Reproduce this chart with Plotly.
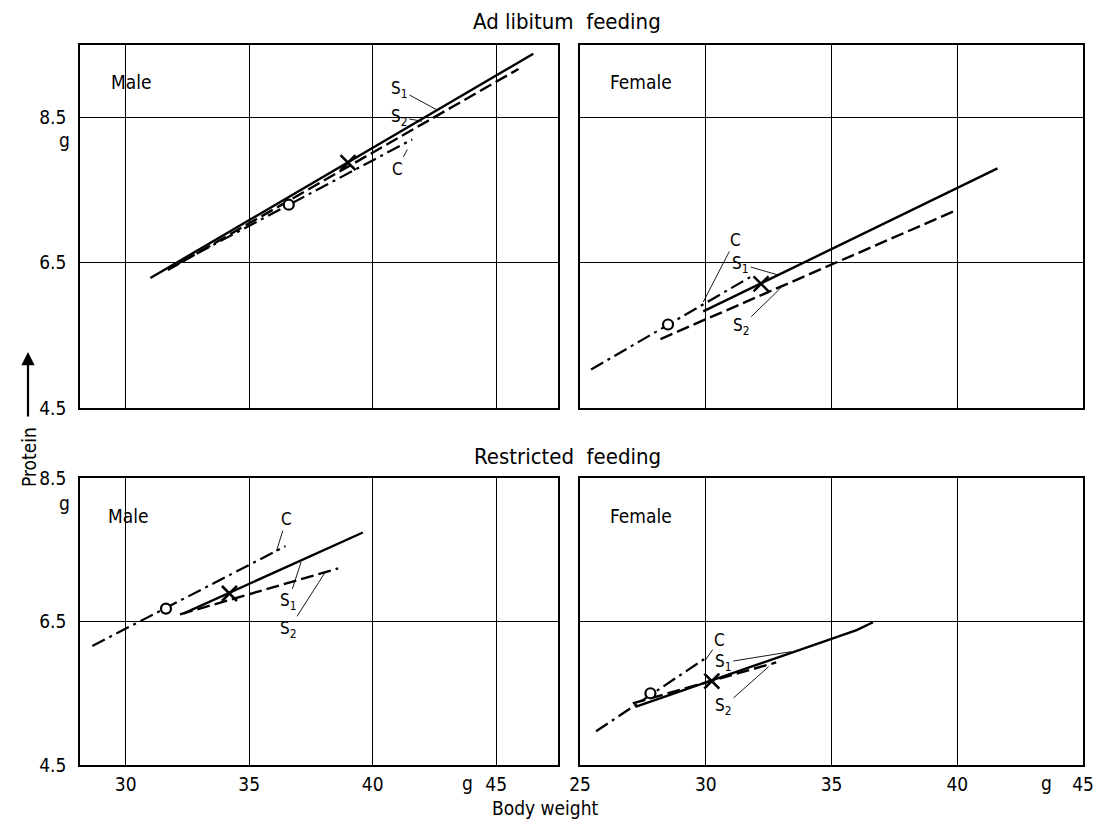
import plotly.graph_objects as go

FONT = "DejaVu Sans Condensed"

# ---------------- data ----------------
# Ad libitum feeding, male
al_m_S1_x = [31.0, 46.5];  al_m_S1_y = [6.29, 9.38]
al_m_S2_x = [31.7, 45.9];  al_m_S2_y = [6.40, 9.17]
al_m_C_x = [31.9, 41.6];   al_m_C_y = [6.45, 8.20]
al_m_circle = (36.6, 7.30)
al_m_cross = (39.0, 7.88)

# Ad libitum feeding, female
al_f_S1_x = [29.9, 41.6];  al_f_S1_y = [5.83, 7.80]
al_f_S2_x = [28.2, 40.0];  al_f_S2_y = [5.45, 7.23]
al_f_C_x = [25.44, 31.9];  al_f_C_y = [5.03, 6.33]
al_f_circle = (28.5, 5.65)
al_f_cross = (32.2, 6.21)

# Restricted feeding, male
rf_m_S1_x = [32.33, 39.6]; rf_m_S1_y = [6.61, 7.74]
rf_m_S2_x = [32.2, 38.6];  rf_m_S2_y = [6.60, 7.24]
rf_m_C_x = [28.65, 36.47]; rf_m_C_y = [6.16, 7.55]
rf_m_circle = (31.63, 6.68)
rf_m_cross = (34.2, 6.89)

# Restricted feeding, female
rf_f_S1_x = [27.2, 36.0, 36.65]; rf_f_S1_y = [5.31, 6.38, 6.49]
rf_f_S2_x = [27.1, 32.8];        rf_f_S2_y = [5.36, 5.93]
rf_f_C_x = [25.64, 30.04];       rf_f_C_y = [4.97, 6.00]
rf_f_circle = (27.8, 5.50)
rf_f_cross = (30.24, 5.67)

y_ticks = [4.5, 6.5, 8.5]
x_ticks_left = [30, 35, 40, 45]
x_ticks_right = [25, 30, 35, 40, 45]

# ---------------- figure ----------------
W, H = 1095, 822
fig = go.Figure()

def px(v):
    return v / W

def py(v):
    return 1 - v / H

panels = [
    ("x", "y", al_m_S1_x, al_m_S1_y, al_m_S2_x, al_m_S2_y, al_m_C_x, al_m_C_y, al_m_circle, al_m_cross),
    ("x2", "y2", al_f_S1_x, al_f_S1_y, al_f_S2_x, al_f_S2_y, al_f_C_x, al_f_C_y, al_f_circle, al_f_cross),
    ("x3", "y3", rf_m_S1_x, rf_m_S1_y, rf_m_S2_x, rf_m_S2_y, rf_m_C_x, rf_m_C_y, rf_m_circle, rf_m_cross),
    ("x4", "y4", rf_f_S1_x, rf_f_S1_y, rf_f_S2_x, rf_f_S2_y, rf_f_C_x, rf_f_C_y, rf_f_circle, rf_f_cross),
]

for xa, ya, s1x, s1y, s2x, s2y, cx, cy, circ, cross in panels:
    fig.add_trace(go.Scatter(x=cx, y=cy, mode="lines", xaxis=xa, yaxis=ya,
                             line=dict(color="black", width=2.2, dash="14px,5px,3px,5px")))
    fig.add_trace(go.Scatter(x=s2x, y=s2y, mode="lines", xaxis=xa, yaxis=ya,
                             line=dict(color="black", width=2.4, dash="13px,5px")))
    fig.add_trace(go.Scatter(x=s1x, y=s1y, mode="lines", xaxis=xa, yaxis=ya,
                             line=dict(color="black", width=2.4)))
    fig.add_trace(go.Scatter(x=[circ[0]], y=[circ[1]], mode="markers", xaxis=xa, yaxis=ya,
                             marker=dict(symbol="circle", size=10, color="white",
                                         line=dict(color="black", width=2.2))))
    fig.add_trace(go.Scatter(x=[cross[0]], y=[cross[1]], mode="markers", xaxis=xa, yaxis=ya,
                             marker=dict(symbol="x-thin-open", size=15, color="black",
                                         line=dict(color="black", width=2.6))))

left_dom = [px(80), px(558)]
right_dom = [px(580), px(1083)]
top_dom = [py(408), py(45)]
bot_dom = [py(765), py(478)]

axis_common = dict(showline=True, mirror=True, linecolor="black", linewidth=1.6,
                   showgrid=True, gridcolor="black", gridwidth=1, zeroline=False,
                   automargin=False, ticks="",
                   tickfont=dict(family=FONT, size=19, color="black"))

fig.update_layout(
    width=W, height=H, margin=dict(l=0, r=0, t=0, b=0, autoexpand=False),
    paper_bgcolor="white", plot_bgcolor="white", showlegend=False,
    font=dict(family=FONT, color="black", size=19),
    xaxis=dict(domain=left_dom, anchor="y", range=[28.15, 47.5], tickvals=x_ticks_left,
               showticklabels=False, **axis_common),
    yaxis=dict(domain=top_dom, anchor="x", range=[4.5, 9.5], tickvals=y_ticks,
               ticktext=[f"{v:.1f}" for v in y_ticks], ticklabelstandoff=8, **axis_common),
    xaxis2=dict(domain=right_dom, anchor="y2", range=[25, 45], tickvals=x_ticks_right,
                showticklabels=False, **axis_common),
    yaxis2=dict(domain=top_dom, anchor="x2", range=[4.5, 9.5], tickvals=y_ticks,
                showticklabels=False, **axis_common),
    xaxis3=dict(domain=left_dom, anchor="y3", range=[28.15, 47.5], tickvals=x_ticks_left,
                ticktext=[str(v) for v in x_ticks_left], ticklabelstandoff=1, **axis_common),
    yaxis3=dict(domain=bot_dom, anchor="x3", range=[4.5, 8.5], tickvals=y_ticks,
                ticktext=[f"{v:.1f}" for v in y_ticks], ticklabelstandoff=8, **axis_common),
    xaxis4=dict(domain=right_dom, anchor="y4", range=[25, 45], tickvals=x_ticks_right,
                ticktext=[str(v) for v in x_ticks_right], ticklabelstandoff=1, **axis_common),
    yaxis4=dict(domain=bot_dom, anchor="x4", range=[4.5, 8.5], tickvals=y_ticks,
                showticklabels=False, **axis_common),
)

ann = []

def text(x, y, s, size=19, **kw):
    d = dict(x=x, y=y, xref="paper", yref="paper", text=s, showarrow=False,
             xanchor="center", yanchor="middle",
             font=dict(family=FONT, size=size, color="black"))
    d.update(kw)
    ann.append(d)

# titles
text(px(567), py(22), "Ad libitum  feeding", size=22)
text(px(567), py(456), "Restricted  feeding", size=22)
# panel labels
text(px(131), py(82), "Male")
text(px(641), py(82), "Female")
text(px(128), py(516), "Male")
text(px(641), py(516), "Female")
# unit labels
text(px(64), py(140), "g")
text(px(64), py(503), "g")
text(px(467), py(783), "g")
text(px(1046), py(783), "g")
# axis titles
text(px(545), py(808), "Body weight")
text(px(29), py(457), "Protein", textangle=-90)
ann.append(dict(x=px(28), y=py(352), xref="paper", yref="paper", ax=0, ay=66,
                text="", showarrow=True,
                arrowhead=2, arrowsize=1.2, arrowwidth=2.2, arrowcolor="black"))

# curve labels with leader lines
def lab(xa, ya, x, y, s, ax, ay):
    ann.append(dict(x=x, y=y, xref=xa, yref=ya, text=s, showarrow=True, ax=ax, ay=ay,
                    arrowhead=0, arrowwidth=0.9, arrowcolor="black", standoff=0,
                    font=dict(family=FONT, size=17, color="black")))

lab("x", "y", 42.58, 8.61, "S<sub>1</sub>", -37, -20)
lab("x", "y", 42.0, 8.45, "S<sub>2</sub>", -23, -4)
lab("x", "y", 41.4, 8.06, "C", -10, 19)

lab("x2", "y2", 29.9, 5.96, "C", 32, -62)
lab("x2", "y2", 32.9, 6.33, "S<sub>1</sub>", -38, -11)
lab("x2", "y2", 33.0, 6.16, "S<sub>2</sub>", -40, 39)

lab("x3", "y3", 36.1, 7.48, "C", 10, -32)
lab("x3", "y3", 37.1, 7.33, "S<sub>1</sub>", -13, 40)
lab("x3", "y3", 38.1, 7.20, "S<sub>2</sub>", -37, 58)

lab("x4", "y4", 30.0, 5.97, "C", 14, -20)
lab("x4", "y4", 33.4, 6.08, "S<sub>1</sub>", -68, 11)
lab("x4", "y4", 32.5, 5.87, "S<sub>2</sub>", -45, 40)

fig.update_layout(annotations=ann)

fig.write_html("out.html")
